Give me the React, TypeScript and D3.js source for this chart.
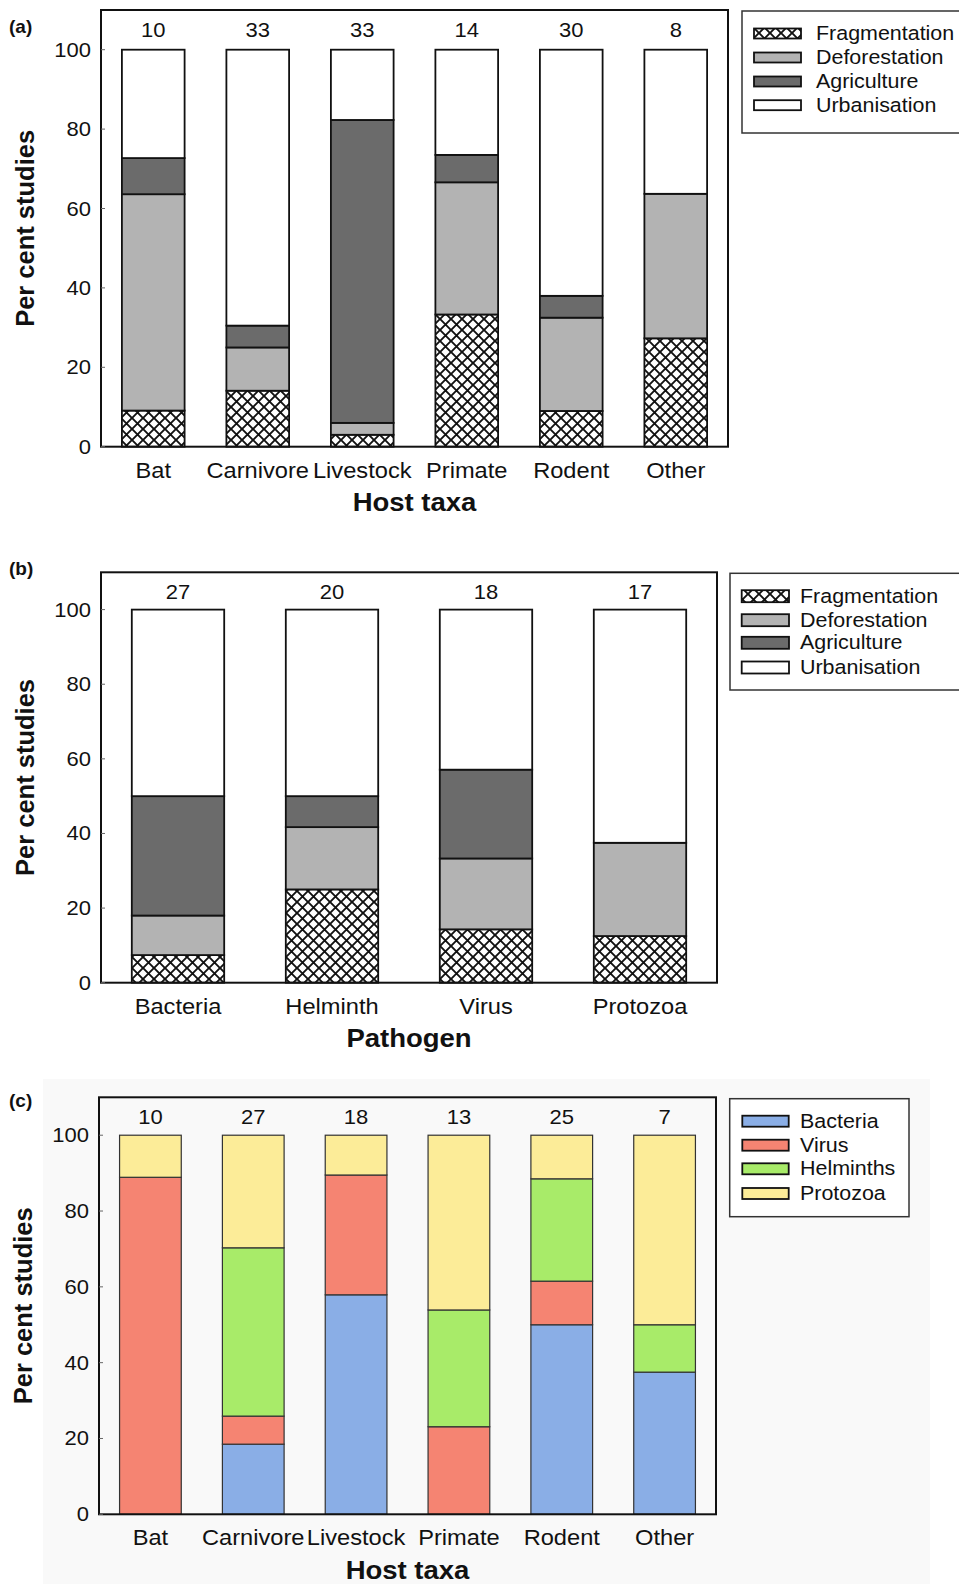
import React from 'react';
import * as d3 from 'd3';

// ---- data ----
const hostTaxa = ['Bat', 'Carnivore', 'Livestock', 'Primate', 'Rodent', 'Other'];
const hostStudiesA = [10, 33, 33, 14, 30, 8];
const driverKeys = ['Fragmentation', 'Deforestation', 'Agriculture', 'Urbanisation'];
const fragmentationByHost = [9.1, 14.1, 3.0, 33.3, 9.0, 27.3];
const deforestationByHost = [54.5, 10.9, 3.0, 33.3, 23.5, 36.4];
const agricultureByHost = [9.1, 5.5, 76.3, 6.9, 5.5, 0];
const urbanisationByHost = [27.3, 69.5, 17.7, 26.5, 62.0, 36.3];

const pathogens = ['Bacteria', 'Helminth', 'Virus', 'Protozoa'];
const pathogenStudies = [27, 20, 18, 17];
const fragmentationByPathogen = [7.4, 25.0, 14.3, 12.5];
const deforestationByPathogen = [10.6, 16.7, 19.0, 25.0];
const agricultureByPathogen = [32.0, 8.3, 23.8, 0];
const urbanisationByPathogen = [50.0, 50.0, 42.9, 62.5];

const hostStudiesC = [10, 27, 18, 13, 25, 7];
const pathogenKeys = ['Bacteria', 'Virus', 'Helminths', 'Protozoa'];
const bacteriaByHost = [0, 18.5, 57.9, 0, 50.0, 37.5];
const virusByHost = [88.9, 7.4, 31.6, 23.1, 11.5, 0];
const helminthsByHost = [0, 44.4, 0, 30.8, 27.0, 12.5];
const protozoaByHost = [11.1, 29.7, 10.5, 46.1, 11.5, 50.0];

const yTicks = [0, 20, 40, 60, 80, 100];

const W = 959;
const H = 1584;
const FONT = '"Liberation Sans", Arial, sans-serif';
const SX = 1.1; // the source image is slightly stretched horizontally

type Row = { [k: string]: number | string };

function buildRows(cats: string[], keys: string[], cols: number[][]): Row[] {
  return cats.map((c, i) => {
    const r: Row = { cat: c };
    keys.forEach((k, j) => { r[k] = cols[j][i]; });
    return r;
  });
}

const greyFill: Record<string, string> = {
  Fragmentation: 'url(#hatch)',
  Deforestation: '#b3b3b3',
  Agriculture: '#6b6b6b',
  Urbanisation: '#ffffff',
};
const colourFill: Record<string, string> = {
  Bacteria: '#8aaee6',
  Virus: '#f58472',
  Helminths: '#a8eb69',
  Protozoa: '#fcec98',
};

const SText: React.FC<{ x: number; y: number; size: number; anchor?: string; bold?: boolean; children: React.ReactNode; dy?: string }> = ({ x, y, size, anchor = 'start', bold, children, dy }) => (
  <text
    transform={`translate(${x},${y}) scale(${SX},1)`}
    fontSize={size}
    fontFamily={FONT}
    fontWeight={bold ? 'bold' : 'normal'}
    textAnchor={anchor}
    dy={dy}
    fill="#111"
  >
    {children}
  </text>
);

interface PanelProps {
  tag: string;
  tagY: number;
  frame: { left: number; right: number; top: number; bottom: number };
  cats: string[];
  counts: number[];
  keys: string[];
  cols: number[][];
  fills: Record<string, string>;
  barStroke: string;
  barStrokeW: number;
  xTitle: string;
  legend: { x: number; y: number; w: number; h: number; swX: number; swW: number; swH: number; textX: number; baselines: number[] };
}

const Panel: React.FC<PanelProps> = ({ tag, tagY, frame, cats, counts, keys, cols, fills, barStroke, barStrokeW, xTitle, legend }) => {
  const { left, right, top, bottom } = frame;
  const x = d3.scaleBand<string>().domain(cats).range([left, right]).paddingInner(0.4).paddingOuter(0.2);
  const y = d3.scaleLinear().domain([0, 110]).range([bottom, top]);
  const rows = buildRows(cats, keys, cols);
  const series = d3.stack<Row>().keys(keys).value((d, k) => d[k] as number)(rows);
  const midY = (top + bottom) / 2;

  return (
    <g>
      <text x={9} y={tagY} fontSize={19} fontWeight="bold" fontFamily={FONT} fill="#111">{tag}</text>
      {/* bars */}
      {series.map((s) => (
        <g key={s.key}>
          {s.map((d, i) => {
            const h = y(d[0]) - y(d[1]);
            if (h <= 0.01) return null;
            return (
              <rect
                key={i}
                x={x(cats[i])!}
                y={y(d[1])}
                width={x.bandwidth()}
                height={h}
                fill={fills[s.key]}
                stroke={barStroke}
                strokeWidth={barStrokeW}
              />
            );
          })}
        </g>
      ))}
      {/* frame */}
      <rect x={left} y={top} width={right - left} height={bottom - top} fill="none" stroke="#111" strokeWidth={2} />
      {/* y ticks */}
      {yTicks.map((t) => (
        <g key={t}>
          <line x1={left} x2={left + 4} y1={y(t)} y2={y(t)} stroke="#666" strokeWidth={1} />
          <SText x={left - 10} y={y(t)} size={20} anchor="end" dy="0.35em">{t}</SText>
        </g>
      ))}
      {/* counts and category labels */}
      {cats.map((c, i) => (
        <g key={c}>
          <SText x={x(c)! + x.bandwidth() / 2} y={top + 27} size={20} anchor="middle">{counts[i]}</SText>
          <SText x={x(c)! + x.bandwidth() / 2} y={bottom + 31} size={21.5} anchor="middle">{c}</SText>
        </g>
      ))}
      <SText x={(left + right) / 2} y={bottom + 64.5} size={25} anchor="middle" bold>{xTitle}</SText>
      <text
        transform={`translate(${left - 67},${midY}) rotate(-90)`}
        fontSize={25.5}
        fontWeight="bold"
        fontFamily={FONT}
        textAnchor="middle"
        fill="#111"
      >
        Per cent studies
      </text>
      {/* legend */}
      <rect x={legend.x} y={legend.y} width={legend.w} height={legend.h} fill="#fff" stroke="#333" strokeWidth={1.5} />
      {keys.map((k, i) => (
        <g key={k}>
          <rect
            x={legend.swX}
            y={legend.baselines[i] - 6.5 - legend.swH / 2}
            width={legend.swW}
            height={legend.swH}
            fill={fills[k]}
            stroke="#111"
            strokeWidth={1.8}
          />
          <SText x={legend.textX} y={legend.baselines[i]} size={19.5}>{k}</SText>
        </g>
      ))}
    </g>
  );
};

export default function App() {
  return (
    <div style={{ position: 'absolute', left: 0, top: 0 }}>
      <svg width={W} height={H} style={{ display: 'block', background: '#fff' }}>
        <defs>
          <pattern id="hatch" patternUnits="userSpaceOnUse" width={11} height={11}>
            <rect width={11} height={11} fill="#fff" />
            <path d="M-1,-1 L12,12 M12,-1 L-1,12" stroke="#111" strokeWidth={1.9} />
          </pattern>
        </defs>
        <rect x={43} y={1079} width={887} height={H - 1079} fill="#f9f9f9" />

        <Panel
          tag="(a)"
          tagY={33}
          frame={{ left: 101, right: 728, top: 10, bottom: 446.7 }}
          cats={hostTaxa}
          counts={hostStudiesA}
          keys={driverKeys}
          cols={[fragmentationByHost, deforestationByHost, agricultureByHost, urbanisationByHost]}
          fills={greyFill}
          barStroke="#111"
          barStrokeW={1.8}
          xTitle="Host taxa"
          legend={{ x: 742, y: 11, w: 240, h: 122, swX: 754, swW: 47, swH: 10, textX: 816, baselines: [40, 64, 88, 111.7] }}
        />
        <Panel
          tag="(b)"
          tagY={575}
          frame={{ left: 101, right: 717, top: 572.3, bottom: 982.7 }}
          cats={pathogens}
          counts={pathogenStudies}
          keys={driverKeys}
          cols={[fragmentationByPathogen, deforestationByPathogen, agricultureByPathogen, urbanisationByPathogen]}
          fills={greyFill}
          barStroke="#111"
          barStrokeW={1.8}
          xTitle="Pathogen"
          legend={{ x: 730, y: 573.3, w: 250, h: 116.7, swX: 741.7, swW: 47.3, swH: 12, textX: 800, baselines: [602.7, 626.7, 649.3, 674] }}
        />
        <Panel
          tag="(c)"
          tagY={1106.7}
          frame={{ left: 99, right: 716, top: 1097.3, bottom: 1514.3 }}
          cats={hostTaxa}
          counts={hostStudiesC}
          keys={pathogenKeys}
          cols={[bacteriaByHost, virusByHost, helminthsByHost, protozoaByHost]}
          fills={colourFill}
          barStroke="#333"
          barStrokeW={1.2}
          xTitle="Host taxa"
          legend={{ x: 729.7, y: 1098.7, w: 179.3, h: 118, swX: 742.3, swW: 46.4, swH: 11, textX: 800, baselines: [1127.7, 1151.7, 1175.3, 1200] }}
        />
      </svg>
    </div>
  );
}
